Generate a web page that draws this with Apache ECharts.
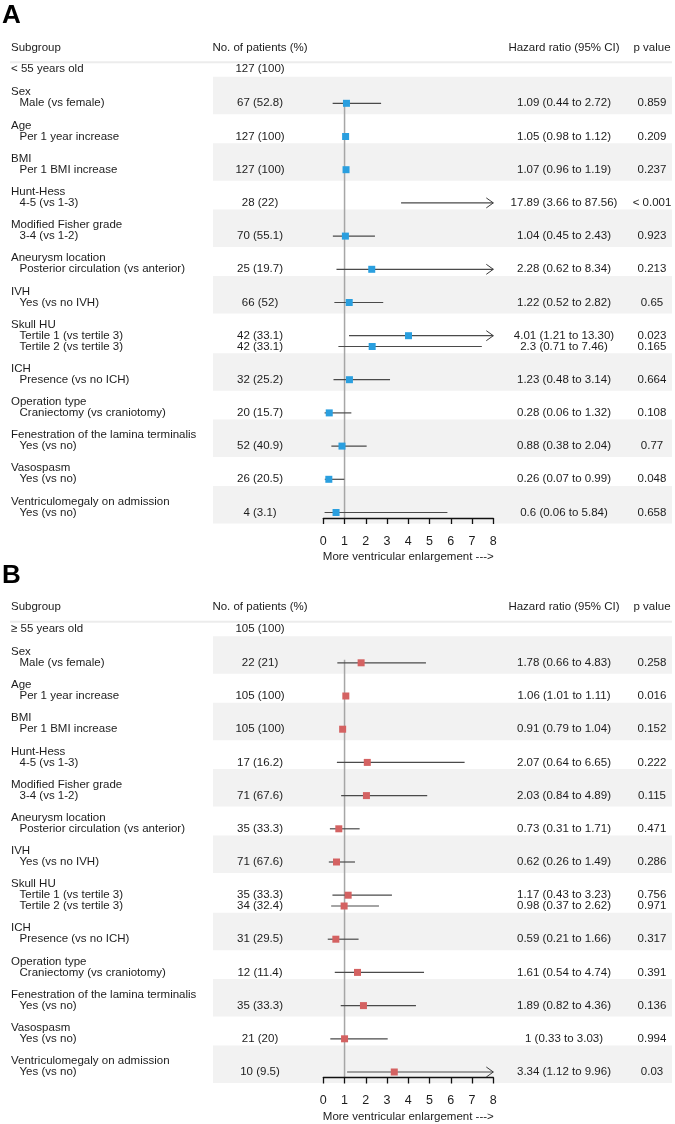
<!DOCTYPE html>
<html>
<head>
<meta charset="utf-8">
<script src="https://cdn.jsdelivr.net/npm/echarts@6/dist/echarts.min.js"></script>
<style>
html,body{margin:0;padding:0;background:#fff;}
#chart{width:675px;height:1124px;}
</style>
</head>
<body>
<div id="chart"></div>
<script>
// ---------- DATA ----------
const groupTitles = ["Sex","Age","BMI","Hunt-Hess","Modified Fisher grade","Aneurysm location","IVH","Skull HU","ICH","Operation type","Fenestration of the lamina terminalis","Vasospasm","Ventriculomegaly on admission"];
const subLabels = [["Male (vs female)"],["Per 1 year increase"],["Per 1 BMI increase"],["4-5 (vs 1-3)"],["3-4 (vs 1-2)"],["Posterior circulation (vs anterior)"],["Yes (vs no IVH)"],["Tertile 1 (vs tertile 3)","Tertile 2 (vs tertile 3)"],["Presence (vs no ICH)"],["Craniectomy (vs craniotomy)"],["Yes (vs no)"],["Yes (vs no)"],["Yes (vs no)"]];
const headers = ["Subgroup","No. of patients (%)","Hazard ratio (95% CI)","p value"];
const axisTitle = "More ventricular enlargement --->";
const tickValues = [0,1,2,3,4,5,6,7,8];

// Panel A
const cohortA = ["< 55 years old","127 (100)"];
const patientsA = ["67 (52.8)","127 (100)","127 (100)","28 (22)","70 (55.1)","25 (19.7)","66 (52)","42 (33.1)","42 (33.1)","32 (25.2)","20 (15.7)","52 (40.9)","26 (20.5)","4 (3.1)"];
const hrA = [1.09,1.05,1.07,17.89,1.04,2.28,1.22,4.01,2.3,1.23,0.28,0.88,0.26,0.6];
const loA = [0.44,0.98,0.96,3.66,0.45,0.62,0.52,1.21,0.71,0.48,0.06,0.38,0.07,0.06];
const hiA = [2.72,1.12,1.19,87.56,2.43,8.34,2.82,13.30,7.46,3.14,1.32,2.04,0.99,5.84];
const hrTextA = ["1.09 (0.44 to 2.72)","1.05 (0.98 to 1.12)","1.07 (0.96 to 1.19)","17.89 (3.66 to 87.56)","1.04 (0.45 to 2.43)","2.28 (0.62 to 8.34)","1.22 (0.52 to 2.82)","4.01 (1.21 to 13.30)","2.3 (0.71 to 7.46)","1.23 (0.48 to 3.14)","0.28 (0.06 to 1.32)","0.88 (0.38 to 2.04)","0.26 (0.07 to 0.99)","0.6 (0.06 to 5.84)"];
const pA = ["0.859","0.209","0.237","< 0.001","0.923","0.213","0.65","0.023","0.165","0.664","0.108","0.77","0.048","0.658"];

// Panel B
const cohortB = ["\u2265 55 years old","105 (100)"];
const patientsB = ["22 (21)","105 (100)","105 (100)","17 (16.2)","71 (67.6)","35 (33.3)","71 (67.6)","35 (33.3)","34 (32.4)","31 (29.5)","12 (11.4)","35 (33.3)","21 (20)","10 (9.5)"];
const hrB = [1.78,1.06,0.91,2.07,2.03,0.73,0.62,1.17,0.98,0.59,1.61,1.89,1,3.34];
const loB = [0.66,1.01,0.79,0.64,0.84,0.31,0.26,0.43,0.37,0.21,0.54,0.82,0.33,1.12];
const hiB = [4.83,1.11,1.04,6.65,4.89,1.71,1.49,3.23,2.62,1.66,4.74,4.36,3.03,9.96];
const hrTextB = ["1.78 (0.66 to 4.83)","1.06 (1.01 to 1.11)","0.91 (0.79 to 1.04)","2.07 (0.64 to 6.65)","2.03 (0.84 to 4.89)","0.73 (0.31 to 1.71)","0.62 (0.26 to 1.49)","1.17 (0.43 to 3.23)","0.98 (0.37 to 2.62)","0.59 (0.21 to 1.66)","1.61 (0.54 to 4.74)","1.89 (0.82 to 4.36)","1 (0.33 to 3.03)","3.34 (1.12 to 9.96)"];
const pB = ["0.258","0.016","0.152","0.222","0.115","0.471","0.286","0.756","0.971","0.317","0.391","0.136","0.994","0.03"];

// ---------- LAYOUT ----------
const FONT = "'Liberation Sans', Arial, Helvetica, sans-serif";
const FS = 11.5;
const TXT = '#1c1c1c';
const PANEL_H = 518;          // axis line position within panel
const PANEL_TOPS = [0, 559.5];
const HEADER_Y = 47.7, HEADER_LINE_Y = 62.3, COHORT_Y = 69.3, FIRST_TITLE_Y = 92.3;
const TITLE_TO_DATA = 11, SUB_STEP = 10.8, DATA_TO_NEXT_TITLE = 22.2;
const X_LABEL = 11, X_SUB = 19.5, X_PAT = 260, X_HR = 564, X_P = 652;
const BAND_X0 = 213, BAND_X1 = 672;

function buildLayout() {
  const titles = [], lines = [], bands = [];
  let y = FIRST_TITLE_Y;
  groupTitles.forEach((t, gi) => {
    titles.push({text: t, y: y});
    let dy = y + TITLE_TO_DATA;
    const first = y;
    subLabels[gi].forEach((s, si) => {
      lines.push({text: s, y: dy});
      if (si < subLabels[gi].length - 1) dy += SUB_STEP;
    });
    if (gi % 2 === 0) bands.push([first - 15.5, dy + 11]);
    y = dy + DATA_TO_NEXT_TITLE;
  });
  return {titles, lines, bands};
}
const L = buildLayout();

function textItems(cohort, patients, hrText, pv) {
  const items = [];
  const h = (x, y, t, a) => items.push({x, y, t, a});
  h(X_LABEL, HEADER_Y, headers[0], 'left');
  h(X_PAT, HEADER_Y, headers[1], 'center');
  h(X_HR, HEADER_Y, headers[2], 'center');
  h(X_P, HEADER_Y, headers[3], 'center');
  h(X_LABEL, COHORT_Y, cohort[0], 'left');
  h(X_PAT, COHORT_Y, cohort[1], 'center');
  L.titles.forEach(t => h(X_LABEL, t.y, t.text, 'left'));
  L.lines.forEach((l, i) => {
    h(X_SUB, l.y, l.text, 'left');
    h(X_PAT, l.y, patients[i], 'center');
    h(X_HR, l.y, hrText[i], 'center');
    h(X_P, l.y, pv[i], 'center');
  });
  return items;
}

function panelSeries(pi, cohort, patients, hr, lo, hi, hrText, pv, color) {
  const tg = pi * 2, fg = pi * 2 + 1;
  const items = textItems(cohort, patients, hrText, pv);
  const series = [];
  // shaded bands
  series.push({
    type: 'custom', xAxisIndex: tg, yAxisIndex: tg, silent: true, z: 1, clip: false,
    data: L.bands.map(b => [BAND_X0, b[0], BAND_X1, b[1]]),
    renderItem: (p, api) => {
      const a = api.coord([api.value(0), api.value(1)]);
      const b = api.coord([api.value(2), api.value(3)]);
      return {type: 'rect', shape: {x: a[0], y: a[1], width: b[0] - a[0], height: b[1] - a[1]}, style: {fill: '#f2f2f2'}};
    }
  });
  // header rule
  series.push({
    type: 'custom', xAxisIndex: tg, yAxisIndex: tg, silent: true, z: 2, clip: false,
    data: [[X_LABEL - 1, HEADER_LINE_Y, BAND_X1, HEADER_LINE_Y]],
    renderItem: (p, api) => {
      const a = api.coord([api.value(0), api.value(1)]);
      const b = api.coord([api.value(2), api.value(3)]);
      return {type: 'line', shape: {x1: a[0], y1: a[1], x2: b[0], y2: b[1]}, style: {stroke: '#ececec', lineWidth: 2}};
    }
  });
  // text
  series.push({
    type: 'custom', xAxisIndex: tg, yAxisIndex: tg, silent: true, z: 5, clip: false,
    data: items.map(it => [it.x, it.y]),
    renderItem: (p, api) => {
      const it = items[p.dataIndex];
      const c = api.coord([it.x, it.y]);
      return {type: 'text', x: c[0], y: c[1], style: {text: it.t, fontSize: FS, fontFamily: FONT, fill: TXT, align: it.a, verticalAlign: 'middle'}};
    }
  });
  // reference line at HR = 1
  series.push({
    type: 'custom', xAxisIndex: fg, yAxisIndex: fg, silent: true, z: 3, clip: false,
    data: [[1, L.lines[0].y - 3, 1, PANEL_H]],
    renderItem: (p, api) => {
      const a = api.coord([api.value(0), api.value(1)]);
      const b = api.coord([api.value(2), api.value(3)]);
      return {type: 'line', shape: {x1: a[0], y1: a[1], x2: b[0], y2: b[1]}, style: {stroke: '#a6a6a6', lineWidth: 1.5}};
    }
  });
  // CI lines + markers
  series.push({
    type: 'custom', xAxisIndex: fg, yAxisIndex: fg, silent: true, z: 4, clip: false,
    data: hr.map((v, i) => [v, L.lines[i].y, lo[i], hi[i]]),
    renderItem: (p, api) => {
      const v = api.value(0), y = api.value(1), l = api.value(2), h = api.value(3);
      const xMax = tickValues[tickValues.length - 1], xMin = tickValues[0];
      const a = api.coord([Math.max(l, xMin), y]);
      const b = api.coord([Math.min(h, xMax), y]);
      const children = [{type: 'line', shape: {x1: a[0], y1: a[1], x2: b[0], y2: b[1]}, style: {stroke: '#4a4a4a', lineWidth: 1.2}}];
      if (h > xMax) {
        children.push({type: 'polyline', shape: {points: [[b[0] - 7, b[1] - 5], [b[0], b[1]], [b[0] - 7, b[1] + 5]]}, style: {stroke: '#3a3a3a', lineWidth: 1, fill: null}});
      }
      if (v >= xMin && v <= xMax) {
        const m = api.coord([v, y]);
        const s = 7;
        children.push({type: 'rect', shape: {x: m[0] - s / 2, y: m[1] - s / 2, width: s, height: s}, style: {fill: color}});
      }
      return {type: 'group', children};
    }
  });
  return series;
}

const grids = [], xAxes = [], yAxes = [];
PANEL_TOPS.forEach((top, pi) => {
  grids.push({left: 0, width: 675, top: top, height: PANEL_H});
  grids.push({left: 323.3, width: 170, top: top, height: PANEL_H});
  xAxes.push({gridIndex: pi * 2, type: 'value', min: 0, max: 675, show: false});
  xAxes.push({
    gridIndex: pi * 2 + 1, type: 'value', min: tickValues[0], max: tickValues[tickValues.length - 1], interval: 1,
    z: 10,
    axisLine: {show: true, onZero: false, lineStyle: {color: '#111', width: 1.3}},
    axisTick: {show: true, length: 6, lineStyle: {color: '#111', width: 1.3}},
    axisLabel: {show: true, fontSize: 12.5, fontFamily: FONT, color: TXT, margin: 17},
    splitLine: {show: false},
    name: axisTitle, nameLocation: 'middle', nameGap: 33,
    nameTextStyle: {fontSize: FS, fontFamily: FONT, color: TXT}
  });
  yAxes.push({gridIndex: pi * 2, type: 'value', min: 0, max: PANEL_H, inverse: true, show: false});
  yAxes.push({gridIndex: pi * 2 + 1, type: 'value', min: 0, max: PANEL_H, inverse: true, show: false});
});

const series = [].concat(
  panelSeries(0, cohortA, patientsA, hrA, loA, hiA, hrTextA, pA, '#2a9fdf'),
  panelSeries(1, cohortB, patientsB, hrB, loB, hiB, hrTextB, pB, '#d46262')
);

const chart = echarts.init(document.getElementById('chart'), null, {renderer: 'canvas'});
chart.setOption({
  animation: false,
  backgroundColor: '#ffffff',
  title: [
    {text: 'A', left: 0, top: 2, padding: [1, 2], textStyle: {fontSize: 26, fontWeight: 'bold', fontFamily: FONT, color: '#000'}},
    {text: 'B', left: 0, top: 561.5, padding: [1, 2], textStyle: {fontSize: 26, fontWeight: 'bold', fontFamily: FONT, color: '#000'}}
  ],
  grid: grids,
  xAxis: xAxes,
  yAxis: yAxes,
  series: series
});
</script>
</body>
</html>
